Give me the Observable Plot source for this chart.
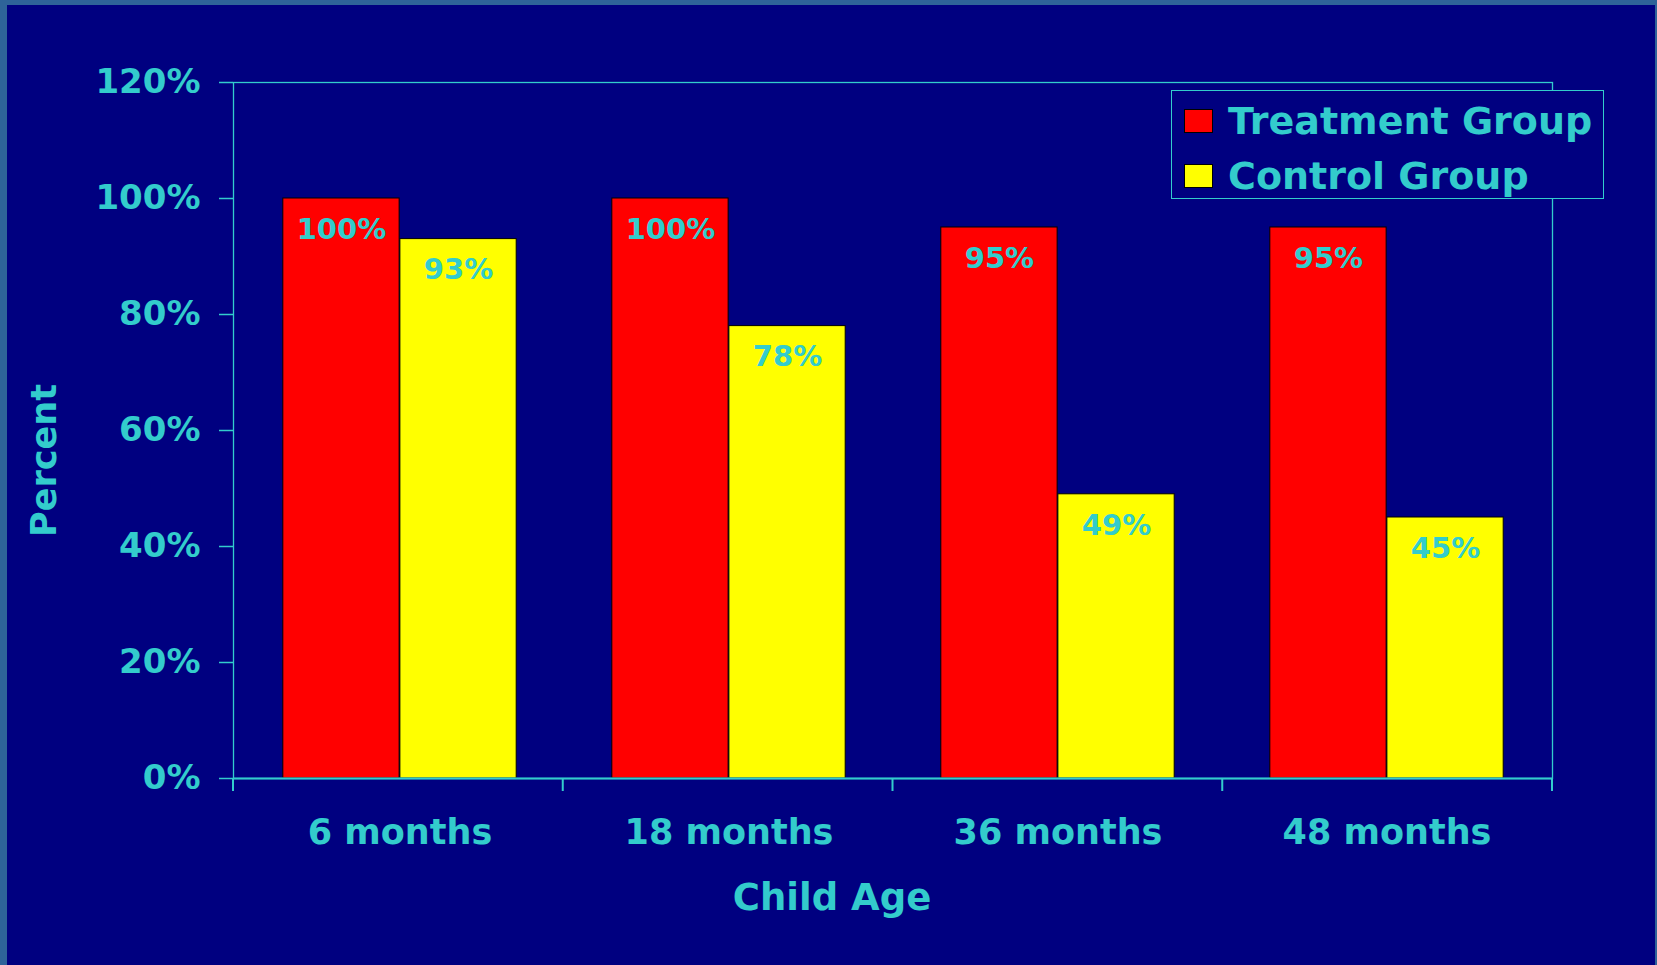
<!DOCTYPE html>
<html><head><meta charset="utf-8">
<script src="https://cdn.jsdelivr.net/npm/d3@7"></script>
<script src="https://cdn.jsdelivr.net/npm/@observablehq/plot@0.6"></script>
<style>
html,body{margin:0;padding:0;}
body{width:1657px;height:965px;background:#2E6399;position:relative;overflow:hidden;font-family:"DejaVu Sans",sans-serif;font-weight:bold;}
#panel{position:absolute;left:7px;top:5px;width:1648px;height:960px;background:#000080;}
#chart{position:absolute;left:0;top:0;}
#legend{position:absolute;left:1171px;top:90px;width:431px;height:107px;border:1px solid #33CCCC;background:#000080;}
.row{position:absolute;left:0;height:40px;display:flex;align-items:center;}
.sw{width:27px;height:22px;border:1px solid #000;margin-left:12px;margin-right:15px;}
.lab{color:#33CCCC;font-size:38px;line-height:40px;white-space:nowrap;}
</style>
</head>
<body>
<div id="panel"></div>
<div id="chart"></div>
<div id="legend"></div>
<script>
// ---- data ----
const ages = ["6 months", "18 months", "36 months", "48 months"];
const groups = ["Treatment Group", "Control Group"];
const colors = ["#FF0000", "#FFFF00"];
const treatment = [1.00, 1.00, 0.95, 0.95];
const control = [0.93, 0.78, 0.49, 0.45];
const yTicks = [0, 0.2, 0.4, 0.6, 0.8, 1.0, 1.2];
const xTitle = "Child Age";
const yTitle = "Percent";

// ---- layout ----
const W = 1657, H = 965, ML = 233, MR = 105, MT = 82, MB = 187;
const cyan = "#33CCCC";
const bw = (W - ML - MR) / ages.length;
const edge = 0.145, mid = 0.5;
const labelShift = ((edge + mid) / 2 - 0.5) * bw;

const tData = ages.map((a, i) => ({age: a, group: groups[0], value: treatment[i]}));
const cData = ages.map((a, i) => ({age: a, group: groups[1], value: control[i]}));
const pct = d3.format(".0%");

const chart = Plot.plot({
  width: W, height: H,
  marginLeft: ML, marginRight: MR, marginTop: MT, marginBottom: MB,
  style: {background: "transparent", color: cyan, fontFamily: "'DejaVu Sans', sans-serif", fontWeight: "bold"},
  x: {domain: ages, padding: 0, label: null},
  y: {domain: [0, 1.2], label: null},
  color: {domain: groups, range: colors},
  marks: [
    Plot.barY(tData, {x: "age", y: "value", fill: "group", stroke: "#000", strokeWidth: 1,
      insetLeft: edge * bw, insetRight: (1 - mid) * bw}),
    Plot.barY(cData, {x: "age", y: "value", fill: "group", stroke: "#000", strokeWidth: 1,
      insetLeft: mid * bw, insetRight: edge * bw}),
    Plot.frame({stroke: cyan, strokeWidth: 1.3}),
    Plot.ruleY([0], {stroke: cyan, strokeWidth: 2}),
    Plot.axisY({ticks: yTicks, tickFormat: pct, tickSize: 14, tickPadding: 19, fontSize: 34, stroke: cyan, strokeWidth: 1.5, label: null}),
    Plot.axisX({tickSize: 0, tickPadding: 41, fontSize: 35, label: null}),
    Plot.text(tData, {x: "age", y: "value", text: d => pct(d.value), dx: labelShift, dy: 31, fill: cyan, fontSize: 29}),
    Plot.text(cData, {x: "age", y: "value", text: d => pct(d.value), dx: -labelShift, dy: 31, fill: cyan, fontSize: 29}),
    Plot.text([xTitle], {frameAnchor: "bottom", text: d => d, dx: -61, dy: 120, lineAnchor: "middle", textAnchor: "middle", fill: cyan, fontSize: 37}),
    Plot.text([yTitle], {frameAnchor: "left", text: d => d, rotate: -90, dx: -189, dy: 30, lineAnchor: "middle", textAnchor: "middle", fill: cyan, fontSize: 35})
  ]
});

// category boundary ticks, derived from the x scale
const sx = chart.scale("x");
const sy = chart.scale("y");
const step = (sx.range[1] - sx.range[0]) / sx.domain.length;
const y0 = sy.range[0];
d3.select(chart).append("g")
  .selectAll("line")
  .data(d3.range(sx.domain.length + 1))
  .join("line")
  .attr("x1", i => sx.range[0] + i * step)
  .attr("x2", i => sx.range[0] + i * step)
  .attr("y1", y0)
  .attr("y2", y0 + 13)
  .attr("stroke", cyan)
  .attr("stroke-width", 2);

document.getElementById("chart").appendChild(chart);

// legend
const legend = d3.select("#legend");
groups.forEach((g, i) => {
  const row = legend.append("div").attr("class", "row").style("top", (10 + i * 55) + "px");
  row.append("div").attr("class", "sw").style("background", colors[i]);
  row.append("div").attr("class", "lab").text(g);
});
</script>
</body></html>
